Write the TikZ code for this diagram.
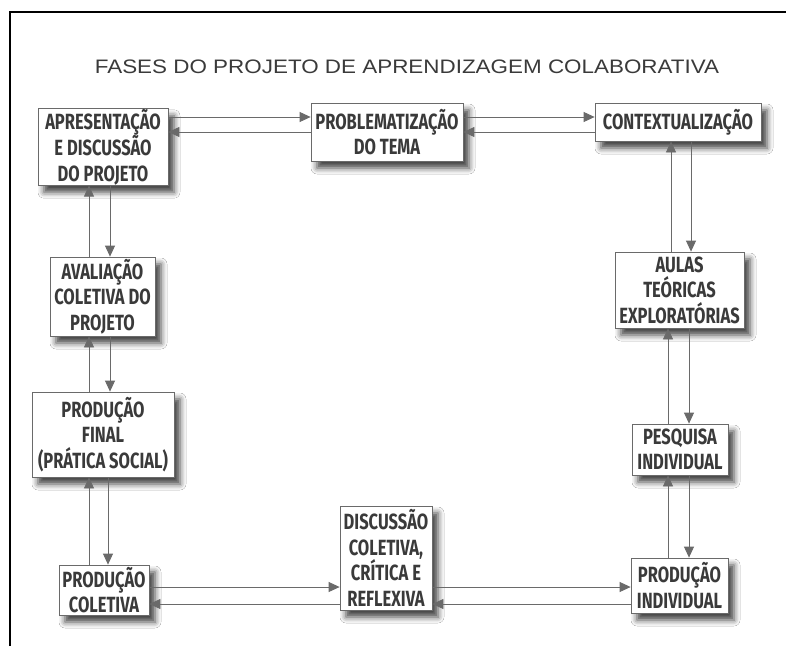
\documentclass[tikz,border=0pt]{standalone}
\usepackage{fontspec}
\usetikzlibrary{arrows.meta,shadows.blur}
\newfontfamily\boxfont[FakeStretch=0.75]{Fira Sans}
\newfontfamily\titlefont[FakeStretch=1.15]{Liberation Sans}
\definecolor{inkc}{HTML}{3A3A3A}
\definecolor{linec}{HTML}{6A6A6A}
\tikzset{
  phase/.style={draw=linec, line width=0.8pt, fill=white, inner sep=0pt, align=center,
    font=\boxfont\bfseries\fontsize{22}{25.5}\selectfont, text=inkc,
    blur shadow={shadow xshift=6pt, shadow yshift=-7pt, shadow blur radius=6pt, shadow opacity=75}},
  arr/.style={draw=linec, line width=0.8pt, -{Triangle[length=11pt,width=10pt]}, color=linec},
}
\begin{document}
\begin{tikzpicture}[x=1pt,y=-1pt]
\useasboundingbox (0,0) rectangle (786,646);
\fill[white] (0,0) rectangle (786,646);
% frame
\draw[black, line width=2pt] (10,646) -- (10,12) -- (786,12);
% title
\node[font=\titlefont\fontsize{19.5}{22}\selectfont, text=inkc] (title) at (407,67) {FASES DO PROJETO DE APRENDIZAGEM COLABORATIVA};
% boxes
\node[phase, minimum width=130, minimum height=72] (a1) at (103,147) {APRESENTAÇÃO\\E DISCUSSÃO\\DO PROJETO};
\node[phase, minimum width=152, minimum height=58] (a2) at (387,132) {PROBLEMATIZAÇÃO\\DO TEMA};
\node[phase, minimum width=166, minimum height=38] (a3) at (678,122) {CONTEXTUALIZAÇÃO};
\node[phase, minimum width=105, minimum height=79] (a4) at (102.5,296.5) {AVALIAÇÃO\\COLETIVA DO\\PROJETO};
\node[phase, minimum width=142, minimum height=85] (a5) at (103,434.5) {PRODUÇÃO\\FINAL\\(PRÁTICA SOCIAL)};
\node[phase, minimum width=90, minimum height=50] (a6) at (104,590) {PRODUÇÃO\\COLETIVA};
\node[phase, minimum width=92, minimum height=104] (a7) at (386,558) {DISCUSSÃO\\COLETIVA,\\CRÍTICA E\\REFLEXIVA};
\node[phase, minimum width=97, minimum height=55] (a8) at (679.5,585.5) {PRODUÇÃO\\INDIVIDUAL};
\node[phase, minimum width=129, minimum height=76] (a9) at (679.5,290) {AULAS\\TEÓRICAS\\EXPLORATÓRIAS};
\node[phase, minimum width=96, minimum height=51] (a10) at (680,449.5) {PESQUISA\\INDIVIDUAL};
% top row
\draw[arr] (a1.east |- 0,117) -- (a2.west |- 0,117);
\draw[arr] (a2.west |- 0,132) -- (a1.east |- 0,132);
\draw[arr] (a2.east |- 0,117) -- (a3.west |- 0,117);
\draw[arr] (a3.west |- 0,132) -- (a2.east |- 0,132);
% left column
\draw[arr] (a4.north -| 89,0) -- (a1.south -| 89,0);
\draw[arr] (a1.south -| 110,0) -- (a4.north -| 110,0);
\draw[arr] (a5.north -| 89,0) -- (a4.south -| 89,0);
\draw[arr] (a4.south -| 110,0) -- (a5.north -| 110,0);
\draw[arr] (a6.north -| 89,0) -- (a5.south -| 89,0);
\draw[arr] (a5.south -| 108,0) -- (a6.north -| 108,0);
% bottom row
\draw[arr] (a6.east |- 0,587) -- (a7.west |- 0,587);
\draw[arr] (a7.west |- 0,604) -- (a6.east |- 0,604);
\draw[arr] (a7.east |- 0,587) -- (a8.west |- 0,587);
\draw[arr] (a8.west |- 0,604) -- (a7.east |- 0,604);
% right column
\draw[arr] (a9.north -| 671,0) -- (a3.south -| 671,0);
\draw[arr] (a3.south -| 691,0) -- (a9.north -| 691,0);
\draw[arr] (a10.north -| 668,0) -- (a9.south -| 668,0);
\draw[arr] (a9.south -| 689,0) -- (a10.north -| 689,0);
\draw[arr] (a8.north -| 668,0) -- (a10.south -| 668,0);
\draw[arr] (a10.south -| 689,0) -- (a8.north -| 689,0);
\end{tikzpicture}
\end{document}
